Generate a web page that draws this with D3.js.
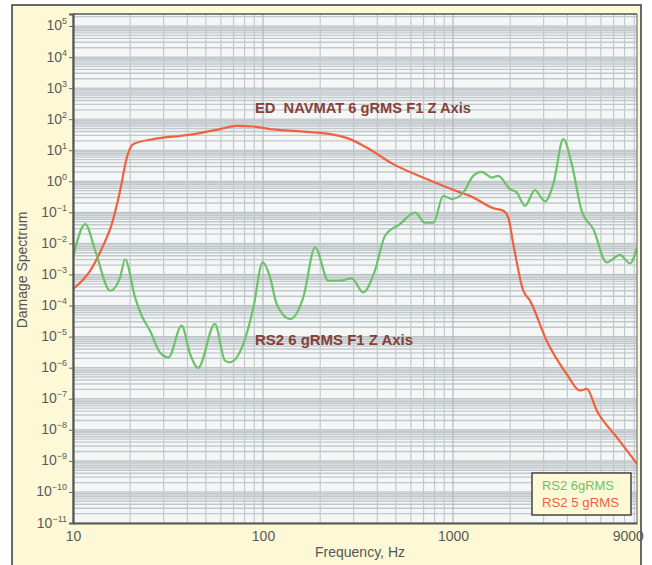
<!DOCTYPE html>
<html><head><meta charset="utf-8">
<script src="https://cdn.jsdelivr.net/npm/d3@7"></script>
<style>
html,body{margin:0;padding:0;background:#fff;}
svg{display:block;font-family:"Liberation Sans",Arial,Helvetica,sans-serif;}
</style></head>
<body>
<svg id="chart" width="652" height="565"></svg>
<script>
// ---- data ----
const xTickValues = [10, 100, 1000, 9000];
const xTickLabels = ["10", "100", "1000", "9000"];
const yTickExponents = [5,4,3,2,1,0,-1,-2,-3,-4,-5,-6,-7,-8,-9,-10,-11];

const navmatFreq = [10,12.3,14.4,16.0,17.7,19.2,20.7,26.5,39.6,59.4,72.7,89,109,144,216,287,351,485,727,1089,1228,1629,1841,1954,2076,2344,2542,3111,3963,4656,5058,5705,7275,9300];
const navmatVal  = [3.4e-4,1.3e-3,8.4e-3,0.042,0.50,5.8,15.7,22.8,30.6,47.7,61,58,47.7,42,34.4,22.8,12.2,3.57,1.18,0.44,0.34,0.137,0.112,0.069,9.6e-3,3.0e-4,1.44e-4,7.4e-6,6.3e-7,1.84e-7,2.08e-7,4.2e-8,5.8e-9,8e-10];

const rs2Freq = [10,11.6,13.1,15.7,17.7,18.8,21.2,23.0,25.4,28.7,31.8,37.3,41.3,45.6,55.8,63.1,67.0,78.8,89,99.6,109,118,139,163,188,221,254,293,337,388,439,526,631,712,788,889,984,1133,1278,1416,1599,1730,1995,2163,2393,2701,3050,3373,3808,4218,4755,5475,6435,7568,8548,9300];
const rs2Val  = [3.5e-3,0.042,5.8e-3,3.0e-4,8.1e-4,3.1e-3,1.84e-4,4.7e-5,1.56e-5,3.1e-6,2.16e-6,2.26e-5,2.8e-6,9.9e-7,2.56e-5,1.69e-6,1.49e-6,5.8e-6,8.7e-5,2.45e-3,8.1e-4,1.12e-4,3.7e-5,1.84e-4,7.4e-3,6.3e-4,6.3e-4,7.5e-4,2.65e-4,1.32e-3,0.0177,0.042,0.099,0.047,0.047,0.342,0.268,0.44,1.50,2.02,1.32,1.50,0.56,0.44,0.163,0.52,0.224,0.81,22.8,3.57,0.112,0.029,2.45e-3,4.3e-3,2.27e-3,7.4e-3];

const legendLabels = ["RS2 6gRMS", "RS2 5 gRMS"];
const annotNavmat = "ED  NAVMAT 6 gRMS F1 Z Axis";
const annotRs2 = "RS2 6 gRMS F1 Z Axis";

// ---- layout ----
const svg = d3.select("#chart");
const L = 73, R = 637, T = 14, B = 523;
const cream = "#fdf9d6";
const greenC = "#6cc36a", redC = "#f0623f", annotC = "#7e3329";

const x = d3.scaleLog().domain([10, 9300]).range([L, R]);
const y = d3.scaleLog().domain([1e-11, Math.pow(10, 5.386)]).range([B, T]);

// outer frame
svg.append("rect").attr("x", 12).attr("y", 5).attr("width", 629).attr("height", 575)
  .attr("fill", cream).attr("stroke", "#3a3a3a").attr("stroke-width", 1.5);

// plot bg
svg.append("rect").attr("x", L).attr("y", T).attr("width", R - L).attr("height", B - T)
  .attr("fill", "#f5f6f6");

const grid = svg.append("g");
// horizontal grid
const hMinor = [], hMajor = [];
for (let e = -11; e <= 5; e++) {
  hMajor.push(Math.pow(10, e));
  for (let m = 2; m <= 9; m++) { const v = m * Math.pow(10, e); if (v < y.domain()[1]) hMinor.push(v); }
}
grid.selectAll("line.hmin").data(hMinor).join("line")
  .attr("x1", L).attr("x2", R).attr("y1", d => y(d)).attr("y2", d => y(d))
  .attr("stroke", "#c0c8cc").attr("stroke-width", 1.4);
grid.selectAll("line.hmaj").data(hMajor).join("line")
  .attr("x1", L).attr("x2", R).attr("y1", d => y(d)).attr("y2", d => y(d))
  .attr("stroke", "#b3bcc0").attr("stroke-width", 1);
// vertical grid
const vLines = [];
for (let e = 1; e <= 3; e++) for (let m = 1; m <= 9; m++) { const v = m * Math.pow(10, e); if (v <= 9300) vLines.push(v); }
grid.selectAll("line.v").data(vLines).join("line")
  .attr("y1", T).attr("y2", B).attr("x1", d => x(d)).attr("x2", d => x(d))
  .attr("stroke", d => [10,100,1000].includes(d) ? "#b0b9bd" : "#c2c9cd").attr("stroke-width", 1.2);

// clip
svg.append("clipPath").attr("id", "clip").append("rect")
  .attr("x", L).attr("y", T).attr("width", R - L).attr("height", B - T);

const line = d3.line().x(d => x(d[0])).y(d => y(d[1])).curve(d3.curveMonotoneX);
const gLines = svg.append("g").attr("clip-path", "url(#clip)");
gLines.append("path").datum(navmatFreq.map((f, i) => [f, navmatVal[i]]))
  .attr("d", line).attr("fill", "none").attr("stroke", redC).attr("stroke-width", 2.2);
gLines.append("path").datum(rs2Freq.map((f, i) => [f, rs2Val[i]]))
  .attr("d", line).attr("fill", "none").attr("stroke", greenC).attr("stroke-width", 2.2);

// plot border
svg.append("line").attr("x1", L).attr("x2", R).attr("y1", T).attr("y2", T).attr("stroke", "#555").attr("stroke-width", 1.5);
svg.append("line").attr("x1", R).attr("x2", R).attr("y1", T).attr("y2", B).attr("stroke", "#777").attr("stroke-width", 1.2);

// axes
const yAxis = d3.axisLeft(y).tickValues(yTickExponents.map(e => Math.pow(10, e))).tickSize(4).tickFormat("");
const gy = svg.append("g").attr("transform", `translate(${L},0)`).call(yAxis);
gy.select(".domain").attr("stroke", "#555").attr("stroke-width", 2.2);
gy.selectAll(".tick line").attr("stroke", "#666");
gy.selectAll(".tick").each(function(d, i) {
  const t = d3.select(this).append("text").attr("x", -6).attr("y", 4)
    .attr("text-anchor", "end").attr("fill", "#5a5a5a").style("font-size", "14px");
  t.append("tspan").text("10");
  t.append("tspan").attr("dy", -6).style("font-size", "9px").text(String(yTickExponents[i]).replace("-", "\u2212"));
});

const xAxis = d3.axisBottom(x).tickValues(xTickValues).tickSize(0).tickFormat((d, i) => xTickLabels[i]);
const gx = svg.append("g").attr("transform", `translate(0,${B})`).call(xAxis);
gx.select(".domain").attr("stroke", "#555").attr("stroke-width", 2.2);
gx.selectAll(".tick text").attr("fill", "#5a5a5a").style("font-size", "14px").attr("dy", "1.05em")
  .attr("font-family", "Liberation Sans, Arial, sans-serif");
gx.selectAll(".tick").filter(d => d === 9000).select("text").attr("text-anchor", "end").attr("dx", 9);

// axis titles
svg.append("text").attr("transform", "translate(27,270) rotate(-90)").attr("text-anchor", "middle")
  .attr("fill", "#555").style("font-size", "14px").text("Damage Spectrum");
svg.append("text").attr("x", 360).attr("y", 557).attr("text-anchor", "middle")
  .attr("fill", "#555").style("font-size", "14px").text("Frequency, Hz");

// annotations
svg.append("text").attr("x", 255).attr("y", 113).attr("fill", annotC).style("font-size", "15.5px")
  .style("font-weight", "bold").style("opacity", 0.92).style("white-space", "pre")
  .attr("textLength", 216).attr("lengthAdjust", "spacingAndGlyphs").text(annotNavmat);
svg.append("text").attr("x", 255).attr("y", 345).attr("fill", annotC).style("font-size", "15px")
  .style("font-weight", "bold").style("opacity", 0.92)
  .attr("textLength", 158).attr("lengthAdjust", "spacingAndGlyphs").text(annotRs2);

// legend
const lg = svg.append("g");
lg.append("rect").attr("x", 532).attr("y", 473).attr("width", 99).attr("height", 42)
  .attr("fill", cream).attr("stroke", "#444").attr("stroke-width", 1.5);
lg.selectAll("text").data(legendLabels).join("text")
  .attr("x", 542).attr("y", (d, i) => 490 + i * 16.5)
  .attr("fill", (d, i) => i === 0 ? greenC : redC).style("font-size", "13px")
  .attr("textLength", (d, i) => i === 0 ? 72 : 77).attr("lengthAdjust", "spacingAndGlyphs")
  .text(d => d);
</script>
</body></html>
